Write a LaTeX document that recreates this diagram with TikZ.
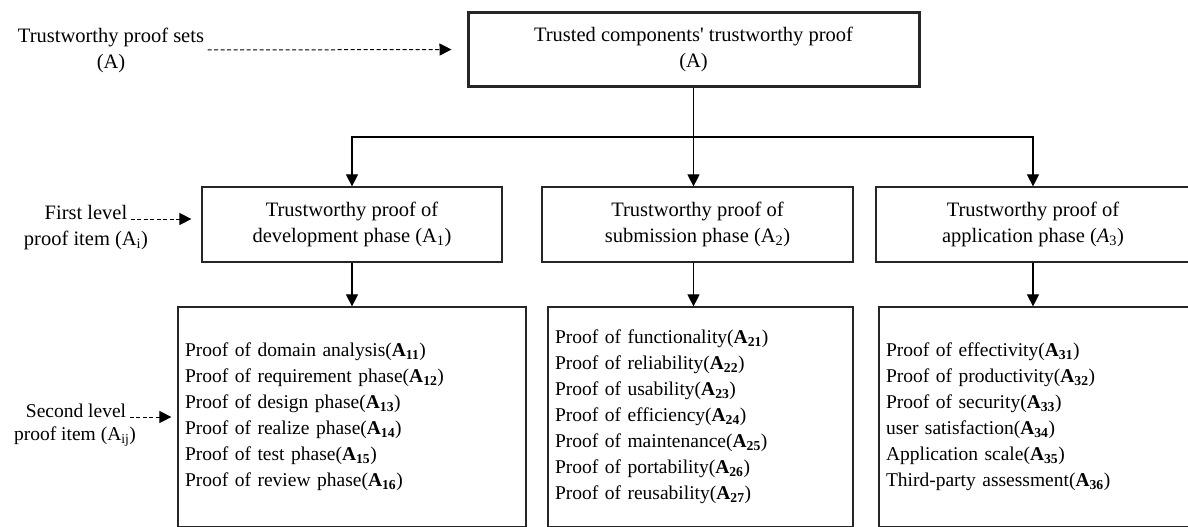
\documentclass[tikz,border=0pt]{standalone}
\usepackage{fontspec}
\setmainfont{Liberation Serif}
\usetikzlibrary{arrows.meta}
\newcommand{\subA}[1]{\textbf{A\textsubscript{#1}}}

\begin{document}
\begin{tikzpicture}[x=1pt, y=-1pt, >={Triangle[length=12pt,width=12pt]},
		font=\fontsize{20.5}{26}\selectfont,
		box/.style={draw=black!85, line width=1.2pt, align=center, inner sep=0pt, minimum height=75pt},
		itembox/.style={draw=black!85, line width=1.2pt, align=left, inner sep=7pt, minimum height=220pt,
				font=\fontsize{19.5}{26}\selectfont},
		flow/.style={->, line width=1.1pt},
		pointer/.style={->, line width=1pt, dash pattern=on 4pt off 2.5pt}]
		\useasboundingbox (0,0) rectangle (1188,527);
		\clip (0,0) rectangle (1188,526);

		% root
		\node[box, line width=3pt, minimum width=451pt, minimum height=73pt] (A) at (693.5,49.5)
		{Trusted components\textquotesingle\ trustworthy proof\\(A)};
		\node[align=center] (sets) at (111,50) {Trustworthy proof sets\\(A)};
		\draw[pointer, shorten >=15pt] (sets.east) -- (A.west);

		% first level
		\node[box, minimum width=300pt] (P1) at (352,224.5) {Trustworthy proof of\\development phase (A\textsubscript{1})};
		\node[box, minimum width=311pt] (P2) at (697.5,224.5) {Trustworthy proof of\\submission phase (A\textsubscript{2})};
		\node[box, minimum width=314pt] (P3) at (1033,224.5) {Trustworthy proof of\\application phase (\textit{A}\textsubscript{3})};

		\coordinate (bus) at (693.5,137);
		\draw[line width=1.1pt] (A.south) -- (bus);
		\draw[flow] (bus) -| (P1.north);
		\draw[flow] (bus) -- (bus |- P2.north);
		\draw[flow] (bus) -| (P3.north);

		\node[anchor=base] (first) at (86,219) {First level};
		\node[anchor=base] (firstb) at (86,245) {proof item (A\textsubscript{i})};
		\draw[pointer, shorten >=10pt] (first.base east) -- (first.base east -| P1.west);

		% second level
		\node[itembox, text width=334pt] (S1) at (352,417) {Proof of domain analysis(\subA{11})\\
			Proof of requirement phase(\subA{12})\\
			Proof of design phase(\subA{13})\\
			Proof of realize phase(\subA{14})\\
			Proof of test phase(\subA{15})\\
			Proof of review phase(\subA{16})};
		\node[itembox, text width=291pt] (S2) at (700.5,417) {Proof of functionality(\subA{21})\\
			Proof of reliability(\subA{22})\\
			Proof of usability(\subA{23})\\
			Proof of efficiency(\subA{24})\\
			Proof of maintenance(\subA{25})\\
			Proof of portability(\subA{26})\\
			Proof of reusability(\subA{27})};
		\node[itembox, text width=307pt] (S3) at (1039.5,417) {Proof of effectivity(\subA{31})\\
			Proof of productivity(\subA{32})\\
			Proof of security(\subA{33})\\
			user satisfaction(\subA{34})\\
			Application scale(\subA{35})\\
			Third-party assessment(\subA{36})};

		\draw[flow] (P1.south) -- (S1.north);
		\draw[flow] (bus |- P2.south) -- (bus |- S2.north);
		\draw[flow] (P3.south) -- (P3.south |- S3.north);

		\node[anchor=base, font=\fontsize{19.5}{26}\selectfont] (second) at (76,417) {Second level};
		\node[anchor=base, font=\fontsize{19.5}{26}\selectfont] (secondb) at (75,440) {proof item (A\textsubscript{ij})};
		\draw[pointer, shorten >=6pt] (second.base east) -- (second.base east -| S1.west);
	\end{tikzpicture}
\end{document}
